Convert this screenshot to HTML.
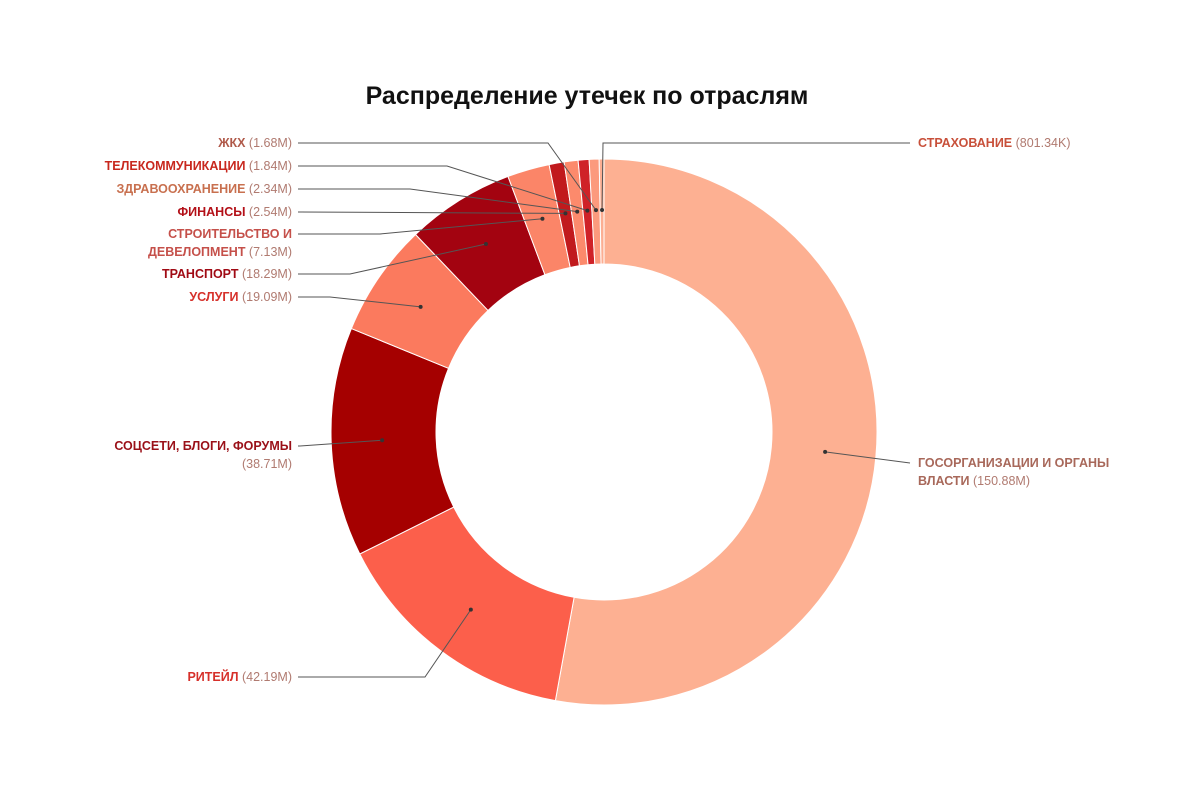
<!DOCTYPE html>
<html><head><meta charset="utf-8">
<style>
body{margin:0;background:#fff;}
svg{display:block;font-family:"Liberation Sans",sans-serif;}
</style></head>
<body>
<svg id="chart" width="1200" height="800" viewBox="0 0 1200 800">
<text x="587" y="104" text-anchor="middle" font-size="25" font-weight="bold" fill="#111">Распределение утечек по отраслям</text>
<g id="slices"></g>
<g id="labels"></g>
</svg>
<script>
const categories=["ГОСОРГАНИЗАЦИИ И ОРГАНЫ|ВЛАСТИ","РИТЕЙЛ","СОЦСЕТИ, БЛОГИ, ФОРУМЫ","УСЛУГИ","ТРАНСПОРТ","СТРОИТЕЛЬСТВО И|ДЕВЕЛОПМЕНТ","ФИНАНСЫ","ЗДРАВООХРАНЕНИЕ","ТЕЛЕКОММУНИКАЦИИ","ЖКХ","СТРАХОВАНИЕ"];
const values=[150.88,42.19,38.71,19.09,18.29,7.13,2.54,2.34,1.84,1.68,0.80134];
const valueLabels=["150.88M","42.19M","38.71M","19.09M","18.29M","7.13M","2.54M","2.34M","1.84M","1.68M","801.34K"];
const colors=["#fdb092","#fc5f4b","#a50000","#fb7a5e","#a30310","#fb8568","#c11a1d","#fc8a6c","#cf2228","#fc9a7d","#fcae92"];
const textColors=["#a8685a","#d6302a","#9a1018","#d6302a","#a00a14","#c5504a","#b31018","#c8704f","#c8281e","#b05a4a","#c8503a"];
// layout: label anchor [x,y, side, elbowX, valueOnSecondLine]
const layout=[[918,463,1,910],[292,677,-1,425],[292,446,-1,300,true],[292,297,-1,330],[292,274,-1,350],[292,234,-1,380],[292,212,-1,300],[292,189,-1,410],[292,166,-1,447],[292,143,-1,548],[918,143,1,603]];
const cx=604,cy=432,R=273,r=168,rm=222;
const NS="http://www.w3.org/2000/svg";
const total=values.reduce((a,b)=>a+b,0);
const ang=v=>v/total*2*Math.PI;
const pt=(a,rad)=>[cx+rad*Math.sin(a),cy-rad*Math.cos(a)];
const gS=document.getElementById('slices'),gL=document.getElementById('labels');
let a0=0;
values.forEach((v,i)=>{
  const a1=a0+ang(v);
  const [x1,y1]=pt(a0,R),[x2,y2]=pt(a1,R),[x3,y3]=pt(a1,r),[x4,y4]=pt(a0,r);
  const lg=(a1-a0)>Math.PI?1:0;
  const p=document.createElementNS(NS,'path');
  p.setAttribute('d',`M${x1},${y1}A${R},${R} 0 ${lg} 1 ${x2},${y2}L${x3},${y3}A${r},${r} 0 ${lg} 0 ${x4},${y4}Z`);
  p.setAttribute('fill',colors[i]);p.setAttribute('stroke','#fff');p.setAttribute('stroke-width','1');
  
  
  gS.appendChild(p);
  const am=(a0+a1)/2;const [dx,dy]=pt(am,rm);
  const L=layout[i];const side=L[2];
  const lx=L[0]+(side<0?6:-8);
  const ln=document.createElementNS(NS,'polyline');
  ln.setAttribute('points',`${lx},${L[1]} ${L[3]},${L[1]} ${dx},${dy}`);
  ln.setAttribute('fill','none');ln.setAttribute('stroke','#555');ln.setAttribute('stroke-width','1');
  
  
  gL.appendChild(ln);
  const dot=document.createElementNS(NS,'circle');
  dot.setAttribute('cx',dx);dot.setAttribute('cy',dy);dot.setAttribute('r','2');dot.setAttribute('fill','#333');
  
  
  gL.appendChild(dot);
  const parts=categories[i].split('|');
  const t=document.createElementNS(NS,'text');
  t.setAttribute('font-size','12.5');t.setAttribute('text-anchor',side<0?'end':'start');
  
  
  const lines=parts.map(s=>[s,false]);
  if(L[4]) lines.push(['',true]);
  lines.forEach((ln2,k)=>{
    const ts=document.createElementNS(NS,'tspan');
    ts.setAttribute('x',L[0]);ts.setAttribute('y',L[1]+4+k*18);
    if(ln2[0]){const b=document.createElementNS(NS,'tspan');b.setAttribute('font-weight','bold');b.setAttribute('fill',textColors[i]);b.textContent=ln2[0];ts.appendChild(b);}
    if(k===lines.length-1){const vv=document.createElementNS(NS,'tspan');vv.setAttribute('fill','#b07a70');vv.textContent=(ln2[0]?' ':'')+'('+valueLabels[i]+')';ts.appendChild(vv);}
    t.appendChild(ts);
  });
  gL.appendChild(t);
  a0=a1;
});
</script>
</body></html>
